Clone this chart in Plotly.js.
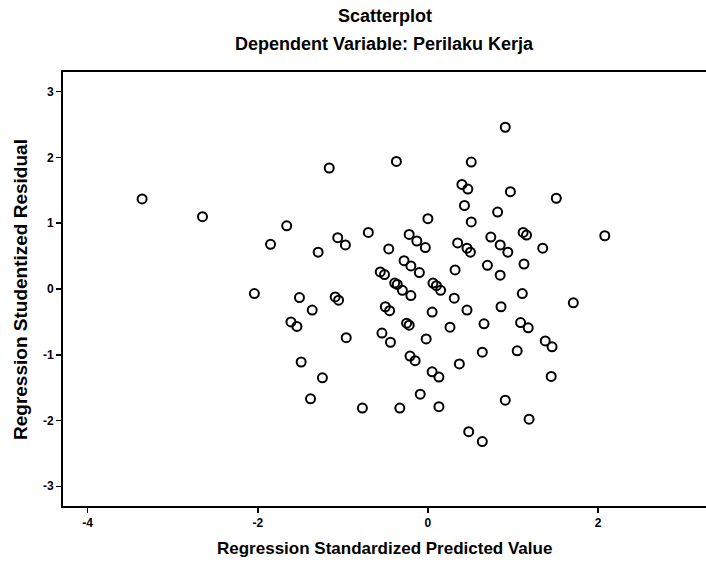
<!DOCTYPE html>
<html>
<head>
<meta charset="utf-8">
<script src="https://cdn.plot.ly/plotly-3.0.1.min.js"></script>
<style>html,body{margin:0;padding:0;background:#fff;}#chart{width:706px;height:566px;}</style>
</head>
<body>
<div id="chart"></div>
<script>
// Regression Standardized Predicted Value
var predicted = [
  -3.36, -2.65, -1.66, -1.85, -1.16, -1.06, -0.97, -1.29, -2.04, -1.51,
  -1.09, -1.05, 0.91, -0.37, 0.51, 0.40, 0.47, 0.97, 0.43, 0.82,
  0.00, 0.51, -0.70, -0.22, -0.13, -0.03, -0.46, 0.74, 0.85, 0.94,
  1.12, 1.16, 1.35, 0.35, 0.46, 0.50, -0.28, -0.20, -0.10, 0.32,
  0.70, 0.85, 1.13, -0.56, -0.51, -0.39, -0.36, -0.30, -0.20, 0.06,
  0.10, 0.15, 0.31, 1.11, -1.36, -1.61, -1.54, -0.96, -1.49, -1.24,
  -1.38, -0.50, -0.45, 0.05, 0.46, 0.86, -0.25, -0.22, 0.26, 0.66,
  1.09, 1.18, 1.38, 1.46, -0.54, -0.44, -0.02, 0.64, 1.05, -0.21,
  -0.15, 0.37, 0.05, 0.13, -0.09, -0.77, -0.33, 0.13, 0.91, 1.19,
  1.45, 0.48, 0.64, 1.51, 2.08, 1.71
];
// Regression Studentized Residual
var residual = [
  1.37, 1.10, 0.96, 0.68, 1.84, 0.78, 0.67, 0.56, -0.07, -0.13,
  -0.12, -0.17, 2.46, 1.94, 1.93, 1.59, 1.52, 1.48, 1.27, 1.17,
  1.07, 1.02, 0.86, 0.83, 0.73, 0.63, 0.61, 0.79, 0.67, 0.56,
  0.86, 0.82, 0.62, 0.70, 0.62, 0.56, 0.43, 0.35, 0.25, 0.29,
  0.36, 0.21, 0.38, 0.26, 0.22, 0.09, 0.07, -0.02, -0.10, 0.09,
  0.05, -0.02, -0.14, -0.07, -0.32, -0.50, -0.57, -0.74, -1.11, -1.35,
  -1.67, -0.27, -0.33, -0.35, -0.32, -0.27, -0.52, -0.55, -0.58, -0.53,
  -0.51, -0.59, -0.79, -0.88, -0.67, -0.81, -0.76, -0.96, -0.94, -1.02,
  -1.09, -1.14, -1.26, -1.34, -1.60, -1.81, -1.81, -1.79, -1.69, -1.98,
  -1.33, -2.17, -2.32, 1.38, 0.81, -0.21
];
var xTicks = [-4, -2, 0, 2];
var xTickLabels = ["-4", "-2", "0", "2"];
var yTicks = [-3, -2, -1, 0, 1, 2, 3];
var yTickLabels = ["-3", "-2", "-1", "0", "1", "2", "3"];
var chartTitle = "Scatterplot";
var chartSubtitle = "Dependent Variable: Perilaku Kerja";
var xTitle = "Regression Standardized Predicted Value";
var yTitle = "Regression Studentized Residual";

var F = "Liberation Sans, Arial, sans-serif";
var trace = {
  x: predicted, y: residual, type: "scatter", mode: "markers",
  marker: {symbol: "circle-open", size: 9, color: "#000", line: {width: 2, color: "#000"}},
  hoverinfo: "x+y"
};
var layout = {
  width: 706, height: 566,
  margin: {l: 63, r: 0, t: 72, b: 60},
  paper_bgcolor: "#fff", plot_bgcolor: "#fff",
  showlegend: false,
  xaxis: {
    range: [-4.29, 3.27], tickvals: xTicks, ticktext: xTickLabels, ticks: "outside", ticklen: 5, tickwidth: 1.5,
    tickcolor: "#000", showgrid: false, zeroline: false, showline: true, mirror: true,
    linecolor: "#000", linewidth: 2,
    tickfont: {family: F, size: 12, color: "#000", weight: "bold"}
  },
  yaxis: {
    range: [-3.30, 3.30], tickvals: yTicks, ticktext: yTickLabels, ticks: "outside", ticklen: 5, tickwidth: 1.5,
    tickcolor: "#000", showgrid: false, zeroline: false, showline: true, mirror: false,
    linecolor: "#000", linewidth: 2, ticklabelstandoff: 0,
    tickfont: {family: F, size: 12, color: "#000", weight: "bold"}
  },
  annotations: [
    {text: chartTitle, xref: "paper", yref: "paper", x: 0.5, y: 1.129, xanchor: "center", yanchor: "middle",
     showarrow: false, font: {family: F, size: 18, color: "#000", weight: "bold"}},
    {text: chartSubtitle, xref: "paper", yref: "paper", x: 0.5, y: 1.0645, xanchor: "center", yanchor: "middle",
     showarrow: false, font: {family: F, size: 18, color: "#000", weight: "bold"}},
    {text: xTitle, xref: "paper", yref: "paper", x: 0.5, y: -0.099, xanchor: "center", yanchor: "middle",
     showarrow: false, font: {family: F, size: 17, color: "#000", weight: "bold"}},
    {text: yTitle, xref: "paper", yref: "paper", x: -0.0669, y: 0.5, xanchor: "center", yanchor: "middle",
     textangle: -90, showarrow: false, font: {family: F, size: 19, color: "#000", weight: "bold"}}
  ]
};
Plotly.newPlot("chart", [trace], layout, {displayModeBar: false, staticPlot: true});
</script>
</body>
</html>
